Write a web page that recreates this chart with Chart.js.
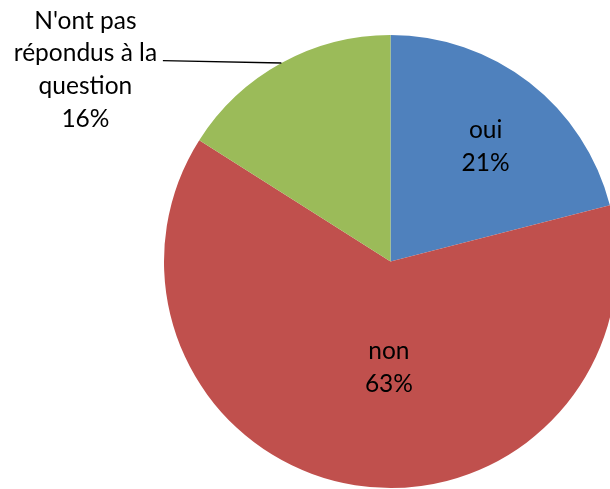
<!DOCTYPE html>
<html>
<head>
<meta charset="utf-8">
<script src="https://cdn.jsdelivr.net/npm/chart.js@4/dist/chart.umd.min.js"></script>
<style>
  html, body { margin: 0; padding: 0; background: #fff; overflow: hidden; }
  #wrap { width: 610px; height: 489px; overflow: hidden; position: relative; }
  canvas { display: block; }
</style>
</head>
<body>
<div id="wrap"><canvas id="pie" width="640" height="489"></canvas></div>
<script>
// Réponses à la question
const categories = ["oui", "non", "N'ont pas répondus à la question"];
const labelLines = [["oui"], ["non"], ["N'ont pas", "répondus à la", "question"]];
const values = [21, 63, 16];
const colors = ["#4F81BD", "#C0504D", "#9BBB59"];

// Placement of each data label, in units of the pie radius from its centre.
// inside: text block centre; outside: text block centre plus leader line end.
const labelPlacement = [
  { inside: true, dx: 0.42, dy: -0.51 },
  { inside: true, dx: -0.007, dy: 0.465 },
  { inside: false, dx: -1.347, dy: -0.85, lineX: -1.005, lineY: -0.887 }
];

const FONT_SIZE = 24.5;
const LINE_H = 32.7;

const dataLabels = {
  id: 'dataLabels',
  afterDatasetsDraw(chart) {
    const ctx = chart.ctx;
    const meta = chart.getDatasetMeta(0);
    const total = values.reduce((a, b) => a + b, 0);
    ctx.save();
    ctx.font = FONT_SIZE + 'px Lato, "Open Sans", sans-serif';
    ctx.fillStyle = '#000';
    ctx.textAlign = 'center';
    ctx.textBaseline = 'alphabetic';
    meta.data.forEach((arc, i) => {
      const p = arc.getProps(['x', 'y', 'startAngle', 'endAngle', 'outerRadius'], true);
      const r = p.outerRadius;
      const place = labelPlacement[i];
      const lines = labelLines[i].concat([Math.round(values[i] / total * 100) + '%']);
      const cx = p.x + place.dx * r;
      const cy = p.y + place.dy * r;
      if (!place.inside) {
        const mid = (p.startAngle + p.endAngle) / 2;
        ctx.beginPath();
        ctx.strokeStyle = '#000';
        ctx.lineWidth = 1.3;
        ctx.moveTo(p.x + Math.cos(mid) * r, p.y + Math.sin(mid) * r);
        ctx.lineTo(p.x + place.lineX * r, p.y + place.lineY * r);
        ctx.stroke();
      }
      const capHalf = FONT_SIZE * 0.36;
      const top = cy - (lines.length - 1) * LINE_H / 2;
      lines.forEach((t, k) => {
        ctx.fillText(t, cx, top + k * LINE_H + capHalf);
      });
    });
    ctx.restore();
  }
};

new Chart(document.getElementById('pie'), {
  type: 'pie',
  data: {
    labels: categories,
    datasets: [{
      data: values,
      backgroundColor: colors,
      borderWidth: 0,
      hoverOffset: 0
    }]
  },
  options: {
    responsive: false,
    animation: false,
    layout: { padding: { left: 164, right: 23, top: 35, bottom: 1 } },
    plugins: {
      legend: { display: false },
      tooltip: { enabled: false }
    }
  },
  plugins: [dataLabels]
});
</script>
</body>
</html>
